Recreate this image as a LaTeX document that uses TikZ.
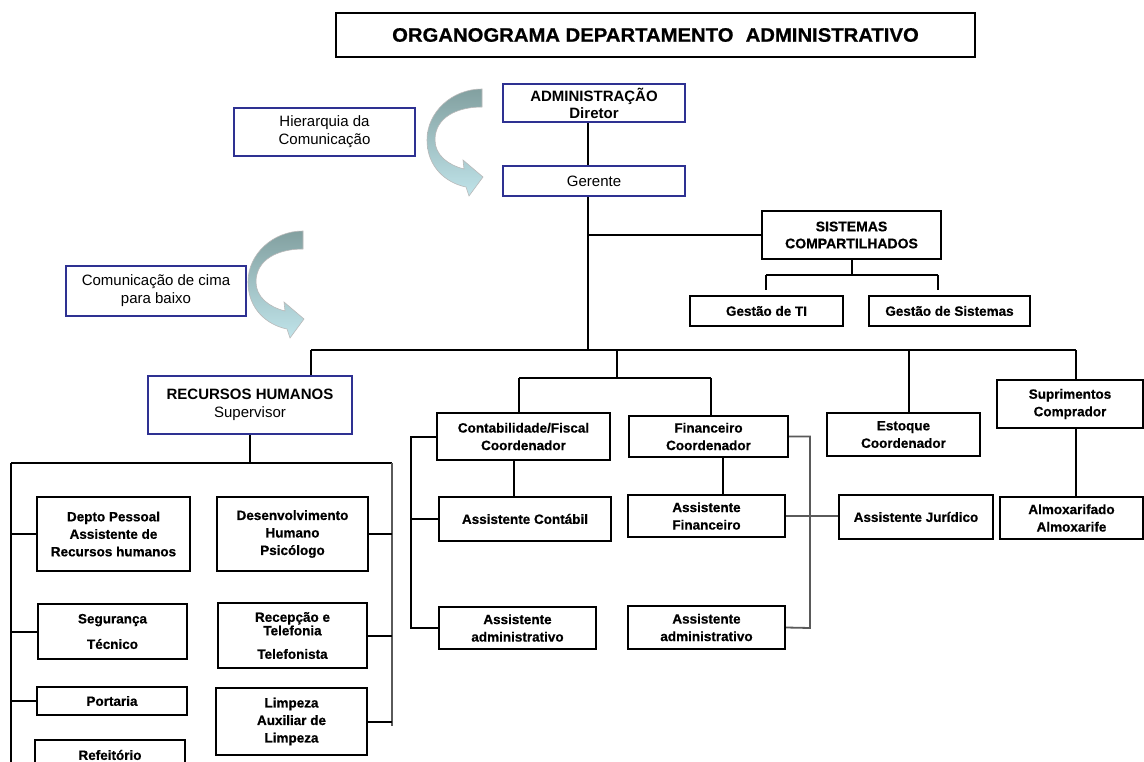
\documentclass[tikz,border=0pt]{standalone}
\usepackage{fontspec}
\usepackage{graphicx}
\setmainfont{Liberation Sans}
\newfontfamily\heavyfont[FakeBold=0.6]{Liberation Sans Bold}
\definecolor{boxblue}{RGB}{46,49,146}
\definecolor{arrtop}{RGB}{130,160,160}
\definecolor{arrbot}{RGB}{192,228,234}
\definecolor{linkgray}{RGB}{90,90,90}
\tikzset{
  bluebox/.style={draw=boxblue, line width=2.5pt, fill=white, align=center, inner sep=0pt},
  blackbox/.style={draw=black, line width=2.2pt, fill=white, align=center, inner sep=0pt},
  link/.style={line width=2pt, black},
  glink/.style={line width=1.8pt, linkgray},
  reg/.style={font=\fontsize{15}{18}\selectfont},
  bld/.style={font=\fontsize{13.5}{17.5}\selectfont\heavyfont},
  bldbig/.style={font=\fontsize{15}{17}\selectfont\bfseries},
  bendarrow/.style={top color=arrtop, bottom color=arrbot, draw=gray!55, line width=0.6pt},
}
\newcommand{\bentarrow}{%
  \path[bendarrow] (482,89) .. controls (452,89) and (427,112) .. (427,140)
    .. controls (427,167) and (446,183) .. (466,187)
    -- (469,196) -- (483,177) -- (463,160) -- (464,169)
    .. controls (448,165) and (435,155) .. (435,140)
    .. controls (435,118) and (456,107) .. (482,107) -- cycle;}
\begin{document}
\begin{tikzpicture}[x=1pt,y=-1pt]
\useasboundingbox (0,0) rectangle (1144,762);
\fill[white] (0,0) rectangle (1144,762);

% title
\node[draw=black, line width=2pt, minimum width=639, minimum height=44, inner sep=0pt,
      font=\fontsize{19.5}{22}\selectfont\heavyfont] (title) at (655.5,35)
  {\scalebox{1.04}[1]{ORGANOGRAMA DEPARTAMENTO\hspace{0.6em}ADMINISTRATIVO}};

% curved arrows
\bentarrow
\begin{scope}[shift={(-179,142)}]
  \bentarrow
\end{scope}

% top of the hierarchy
\node[bluebox, bldbig, minimum width=182, minimum height=38] (adm) at (594,103) {ADMINISTRAÇÃO\\Diretor};
\node[bluebox, reg, minimum width=182, minimum height=30] (ger) at (594,181) {Gerente};
\node[bluebox, reg, minimum width=181, minimum height=48] (hier) at (324.5,132) {Hierarquia da\\Comunicação};
\node[bluebox, reg, minimum width=180, minimum height=50] (com) at (156,291) {Comunicação de cima\\para baixo};

% shared systems
\node[blackbox, font=\fontsize{14}{17}\selectfont\heavyfont, minimum width=179, minimum height=48] (sis) at (851.5,235) {SISTEMAS\\COMPARTILHADOS};
\node[blackbox, bld, minimum width=153, minimum height=30] (gti) at (766.5,311) {Gestão de TI};
\node[blackbox, bld, minimum width=161, minimum height=30] (gsis) at (949.5,311) {Gestão de Sistemas};

% departments
\node[bluebox, font=\fontsize{15}{17.5}\selectfont, minimum width=204, minimum height=58] (rh) at (250,405)
  {\textbf{RECURSOS HUMANOS}\\Supervisor};
\node[blackbox, bld, minimum width=173, minimum height=47] (contab) at (523.5,436.5) {Contabilidade/Fiscal\\Coordenador};
\node[blackbox, bld, minimum width=159, minimum height=41] (fin) at (708.5,436.5) {Financeiro\\Coordenador};
\node[blackbox, bld, minimum width=153, minimum height=43] (est) at (903.5,434.5) {Estoque\\Coordenador};
\node[blackbox, bld, minimum width=146, minimum height=48] (sup) at (1070,404) {Suprimentos\\Comprador};

% accounting and finance staff
\node[blackbox, bld, minimum width=172, minimum height=44] (ac) at (525,519) {Assistente Contábil};
\node[blackbox, bld, minimum width=157, minimum height=42] (af) at (706.5,516) {Assistente\\Financeiro};
\node[blackbox, bld, minimum width=157, minimum height=42] (aadma) at (517.5,628) {Assistente\\administrativo};
\node[blackbox, bld, minimum width=157, minimum height=43] (aadmb) at (706.5,627.5) {Assistente\\administrativo};
\node[blackbox, bld, minimum width=154, minimum height=44] (aj) at (916,517) {Assistente Jurídico};
\node[blackbox, bld, minimum width=143, minimum height=42] (alm) at (1071.5,518) {Almoxarifado\\Almoxarife};

% human resources staff
\node[blackbox, bld, minimum width=153, minimum height=74] (dp) at (113.5,534) {Depto Pessoal\\Assistente de\\Recursos humanos};
\node[blackbox, bld, minimum width=149, minimum height=55] (seg) at (112.5,631.5) {Segurança\\[8pt]Técnico};
\node[blackbox, bld, minimum width=150, minimum height=28] (port) at (112,701) {Portaria};
\node[blackbox, bld, minimum width=150, minimum height=30] (ref) at (110,755) {Refeitório};
\node[blackbox, bld, minimum width=151, minimum height=74] (dh) at (292.5,534) {Desenvolvimento\\Humano\\Psicólogo};
\node[blackbox, bld, minimum width=149, minimum height=65] (rec) at (292.5,635.5) {Recepção e\\[-4pt]Telefonia\\[6pt]Telefonista};
\node[blackbox, bld, minimum width=151, minimum height=67] (lim) at (291.5,721.5) {Limpeza\\Auxiliar de\\Limpeza};

% trunk and main bus
\coordinate (trunk) at (588,350);
\coordinate (busL) at (311,350);
\coordinate (busR) at (1076,350);
\draw[link] (adm.south -| trunk) -- (ger.north -| trunk);
\draw[link] (ger.south -| trunk) -- (trunk);
\draw[link] (busL) -- (busR);
\draw[link] (trunk |- sis.west) -- (sis.west);

% shared systems branch
\coordinate (sisbar) at (852,275);
\draw[link] (sis.south -| sisbar) -- (sisbar);
\draw[link] (766,275) -- (938,275);
\draw[link, shorten >=5pt] (766,275) -- (gti.north -| 766,0);
\draw[link, shorten >=5pt] (938,275) -- (gsis.north -| 938,0);

% drops to departments
\draw[link] (busL) -- (rh.north -| busL);
\coordinate (mid) at (617,378);
\draw[link] (617,350) -- (mid);
\draw[link] (519,378) -- (711,378);
\draw[link] (519,378) -- (contab.north -| 519,0);
\draw[link] (711,378) -- (fin.north -| 711,0);
\draw[link] (909,350) -- (est.north -| 909,0);
\draw[link] (busR) -- (sup.north -| busR);

% human resources tree
\coordinate (rhbar) at (250,463);
\draw[link] (rh.south) -- (rhbar);
\draw[link] (11,463) -- (392,463);
\draw[link] (11,463) -- (11,770);
\draw[glink] (392,463) -- (392,726);
\draw[link] (dp.west -| 11,0) -- (dp.west);
\draw[link] (seg.west -| 11,0) -- (seg.west);
\draw[link] (port.west -| 11,0) -- (port.west);
\draw[link] (dh.east) -- (dh.east -| 392,0);
\draw[link] (rec.east) -- (rec.east -| 392,0);
\draw[link] (lim.east) -- (lim.east -| 392,0);

% accounting tree
\draw[link] (contab.south -| 514,0) -- (ac.north -| 514,0);
\draw[link] (contab.west) -- (411,436.5) -- (411,628) -- (aadma.west);
\draw[link] (411,519) -- (ac.west);

% finance tree
\draw[link] (fin.south -| 723,0) -- (af.north -| 723,0);
\draw[glink] (fin.east) -- (810,436.5) -- (810,628) -- (aadmb.east);
\draw[glink] (af.east) -- (aj.west |- af.east);

% supplies tree
\draw[link] (sup.south -| 1076,0) -- (alm.north -| 1076,0);
\end{tikzpicture}
\end{document}
